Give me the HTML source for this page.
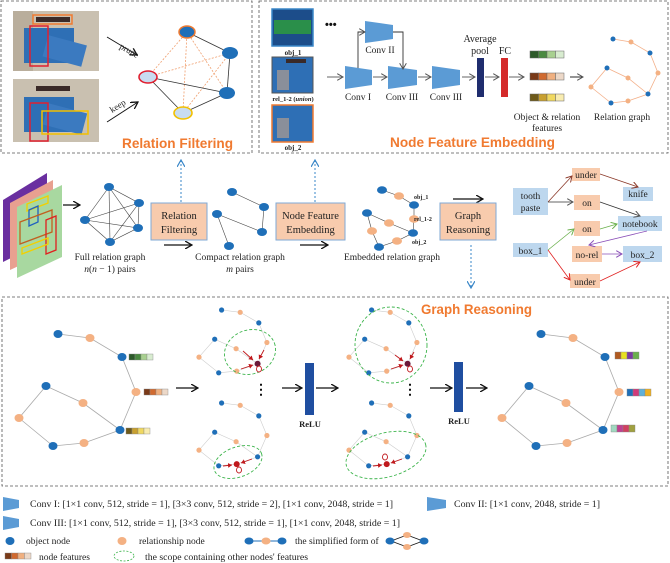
<!DOCTYPE html>
<html><head><meta charset="utf-8"><style>
html,body{margin:0;padding:0;background:#fff}
svg{display:block}
.s{font-family:"Liberation Serif",serif;fill:#222}
.t{font-family:"Liberation Sans",sans-serif;font-weight:bold;fill:#f07a30}
</style></head><body>
<svg width="670" height="563" viewBox="0 0 670 563" xmlns="http://www.w3.org/2000/svg">
<defs>
<marker id="ar" markerWidth="8" markerHeight="8" refX="7" refY="4" orient="auto" markerUnits="userSpaceOnUse"><path d="M0,0 L7,4 L0,8" fill="none" stroke="#111" stroke-width="1.3"/></marker>
<marker id="ab" markerWidth="8" markerHeight="8" refX="7" refY="4" orient="auto" markerUnits="userSpaceOnUse"><path d="M0,0 L7,4 L0,8" fill="none" stroke="#3a87c8" stroke-width="1.2"/></marker>
<marker id="ar2" markerWidth="7" markerHeight="7" refX="6" refY="3.5" orient="auto" markerUnits="userSpaceOnUse"><path d="M0,0 L6,3.5 L0,7" fill="none" stroke="#555" stroke-width="1"/></marker>
<marker id="abr" markerWidth="7" markerHeight="7" refX="6" refY="3.5" orient="auto" markerUnits="userSpaceOnUse"><path d="M0,0 L6,3.5 L0,7" fill="none" stroke="#8b3a2a" stroke-width="1"/></marker>
<marker id="agr" markerWidth="7" markerHeight="7" refX="6" refY="3.5" orient="auto" markerUnits="userSpaceOnUse"><path d="M0,0 L6,3.5 L0,7" fill="none" stroke="#6ab04c" stroke-width="1"/></marker>
<marker id="apu" markerWidth="7" markerHeight="7" refX="6" refY="3.5" orient="auto" markerUnits="userSpaceOnUse"><path d="M0,0 L6,3.5 L0,7" fill="none" stroke="#8a4fb8" stroke-width="1"/></marker>
<marker id="are" markerWidth="7" markerHeight="7" refX="6" refY="3.5" orient="auto" markerUnits="userSpaceOnUse"><path d="M0,0 L6,3.5 L0,7" fill="none" stroke="#e02020" stroke-width="1"/></marker>
<marker id="ard" markerWidth="5" markerHeight="5" refX="4" refY="2.5" orient="auto" markerUnits="userSpaceOnUse"><path d="M0,0 L4,2.5 L0,5Z" fill="#c0181c"/></marker>
</defs>

<!-- dashed frames -->
<rect x="1" y="1" width="251" height="152" fill="none" stroke="#555" stroke-dasharray="3,2" stroke-width="0.8"/>
<rect x="259" y="1" width="409" height="152" fill="none" stroke="#555" stroke-dasharray="3,2" stroke-width="0.8"/>
<rect x="2" y="297" width="666" height="189" fill="none" stroke="#555" stroke-dasharray="3,2" stroke-width="0.8"/>

<!-- ===== Relation filtering panel ===== -->
<g>
<rect x="13" y="11" width="86" height="60" fill="#c9c0b0"/>
<rect x="13" y="11" width="20" height="60" fill="#b9ae9c"/>
<rect x="24" y="28" width="50" height="35" fill="#2e6fb5"/>
<rect x="45" y="40" width="40" height="22" fill="#3b7ac0" transform="rotate(15 65 50)"/>
<rect x="36" y="17" width="34" height="5" fill="#3a2a28"/>
<rect x="33" y="15" width="39" height="9" fill="none" stroke="#f07a30" stroke-width="1.5"/>
<rect x="30" y="26" width="18" height="40" fill="none" stroke="#e02030" stroke-width="1.5"/>
<rect x="13" y="79" width="86" height="63" fill="#c9c0b0"/>
<rect x="24" y="97" width="50" height="35" fill="#2e6fb5"/>
<rect x="45" y="108" width="40" height="22" fill="#3b7ac0" transform="rotate(15 65 119)"/>
<rect x="36" y="86" width="34" height="5" fill="#3a2a28"/>
<rect x="30" y="103" width="18" height="38" fill="none" stroke="#e02030" stroke-width="1.5"/>
<rect x="42" y="111" width="46" height="23" fill="none" stroke="#f2c000" stroke-width="1.5"/>
<line x1="107" y1="37" x2="137" y2="55" stroke="#111" stroke-width="0.9" marker-end="url(#ar)"/>
<line x1="107" y1="122" x2="138" y2="102" stroke="#111" stroke-width="0.9" marker-end="url(#ar)"/>
<text class="s" x="119" y="48" font-size="9" transform="rotate(30 119 48)">prune</text>
<text class="s" x="112" y="113" font-size="9" transform="rotate(-32 112 113)">keep</text>
<g stroke="#f0a070" stroke-width="0.8" stroke-dasharray="2,1.5">
<line x1="187" y1="32" x2="148" y2="77"/><line x1="187" y1="32" x2="183" y2="113"/><line x1="187" y1="32" x2="227" y2="93"/>
<line x1="148" y1="77" x2="230" y2="53"/><line x1="183" y1="113" x2="230" y2="53"/></g>
<g stroke="#333" stroke-width="0.8">
<line x1="187" y1="32" x2="230" y2="53"/><line x1="230" y1="53" x2="227" y2="93"/><line x1="148" y1="77" x2="227" y2="93"/><line x1="148" y1="77" x2="183" y2="113"/><line x1="183" y1="113" x2="227" y2="93"/></g>
<ellipse cx="187" cy="32" rx="8" ry="6" fill="#1f6fb8" stroke="#f07a30" stroke-width="1.5"/>
<ellipse cx="230" cy="53" rx="8" ry="6" fill="#1f6fb8"/>
<ellipse cx="227" cy="93" rx="8" ry="6" fill="#1f6fb8"/>
<ellipse cx="148" cy="77" rx="9" ry="6" fill="#c8dcf0" stroke="#e02030" stroke-width="1.6"/>
<ellipse cx="183" cy="113" rx="9" ry="6" fill="#c8dcf0" stroke="#f2c000" stroke-width="1.6"/>
<text class="t" x="122" y="148" font-size="14" textLength="111" lengthAdjust="spacingAndGlyphs">Relation Filtering</text>
</g>

<!-- ===== Node feature embedding panel ===== -->
<g>
<rect x="272" y="9" width="41" height="37" fill="#1c4d8a" stroke="#3a87c8" stroke-width="1.5"/>
<rect x="274" y="20" width="37" height="14" fill="#2a8f4a"/>
<text class="s" x="293" y="55" font-size="7" text-anchor="middle" font-weight="bold">obj_1</text>
<rect x="272" y="57" width="41" height="36" fill="#2e6fb5" stroke="#555" stroke-width="1"/>
<rect x="277" y="70" width="12" height="20" fill="#8a8f9a"/>
<rect x="286" y="59" width="20" height="4" fill="#3a2a28"/>
<text class="s" x="293" y="101" font-size="6.5" text-anchor="middle" font-weight="bold">rel_1-2 (<tspan font-style="italic">union</tspan>)</text>
<rect x="272" y="105" width="41" height="37" fill="#2e6fb5" stroke="#f07a30" stroke-width="1.5"/>
<rect x="277" y="118" width="12" height="20" fill="#8a8f9a"/>
<text class="s" x="293" y="150" font-size="7" text-anchor="middle" font-weight="bold">obj_2</text>
<text x="325" y="28" font-size="11" font-weight="bold" fill="#111" font-family="Liberation Sans,sans-serif">•••</text>
<line x1="327" y1="77" x2="343" y2="77" stroke="#555" stroke-width="0.9" marker-end="url(#ar2)"/>
<polygon points="345,66 372,70 372,85 345,89" fill="#5b9bd5"/>
<polygon points="365,21 393,25 393,39 365,43" fill="#5b9bd5"/>
<polygon points="388,66 417,70 417,85 388,89" fill="#5b9bd5"/>
<polygon points="432,66 460,70 460,85 432,89" fill="#5b9bd5"/>
<polyline points="358,68 358,32 365,32" fill="none" stroke="#333" stroke-width="0.9" marker-end="url(#ar2)"/>
<polyline points="393,32 403,32 403,69" fill="none" stroke="#333" stroke-width="0.9" marker-end="url(#ar2)"/>
<line x1="373" y1="77" x2="387" y2="77" stroke="#555" stroke-width="0.9" marker-end="url(#ar2)"/>
<line x1="418" y1="77" x2="431" y2="77" stroke="#555" stroke-width="0.9" marker-end="url(#ar2)"/>
<line x1="462" y1="77" x2="475" y2="77" stroke="#555" stroke-width="0.9" marker-end="url(#ar2)"/>
<line x1="485" y1="77" x2="499" y2="77" stroke="#555" stroke-width="0.9" marker-end="url(#ar2)"/>
<line x1="509" y1="77" x2="524" y2="77" stroke="#555" stroke-width="0.9" marker-end="url(#ar2)"/>
<text class="s" x="380" y="53" font-size="9.5" text-anchor="middle">Conv II</text>
<text class="s" x="358" y="100" font-size="9.5" text-anchor="middle">Conv I</text>
<text class="s" x="402" y="100" font-size="9.5" text-anchor="middle">Conv III</text>
<text class="s" x="446" y="100" font-size="9.5" text-anchor="middle">Conv III</text>
<rect x="477" y="58" width="7" height="39" fill="#1f2d6e"/>
<text class="s" x="480" y="42" font-size="10" text-anchor="middle">Average</text>
<text class="s" x="480" y="54" font-size="10" text-anchor="middle">pool</text>
<rect x="501" y="58" width="7" height="39" fill="#d42a2a"/>
<text class="s" x="505" y="54" font-size="10" text-anchor="middle">FC</text>
<g stroke="#666" stroke-width="0.5">
<rect x="530" y="51" width="8.5" height="7" fill="#2d5a2a"/><rect x="538.5" y="51" width="8.5" height="7" fill="#4a8a40"/><rect x="547" y="51" width="8.5" height="7" fill="#a8d090"/><rect x="555.5" y="51" width="8.5" height="7" fill="#d8ecd0"/>
<rect x="530" y="73" width="8.5" height="7" fill="#7a3a18"/><rect x="538.5" y="73" width="8.5" height="7" fill="#d06a30"/><rect x="547" y="73" width="8.5" height="7" fill="#f0b080"/><rect x="555.5" y="73" width="8.5" height="7" fill="#ecd8c8"/>
<rect x="530" y="94" width="8.5" height="7" fill="#6e5a1a"/><rect x="538.5" y="94" width="8.5" height="7" fill="#c8a030"/><rect x="547" y="94" width="8.5" height="7" fill="#f0d860"/><rect x="555.5" y="94" width="8.5" height="7" fill="#f8ecb0"/></g>
<text class="s" x="547" y="120" font-size="9.5" text-anchor="middle">Object &amp; relation</text>
<text class="s" x="547" y="131" font-size="9.5" text-anchor="middle">features</text>
<line x1="570" y1="77" x2="583" y2="77" stroke="#111" stroke-width="0.9" marker-end="url(#ar2)"/>
<polyline points="613,39 631,42 650,53 658,73 648,94 628,101 611,103 591,87 607,68 628,78 648,94" fill="none" stroke="#f3b08a" stroke-width="0.8"/>
<g fill="#1f6fb8"><circle cx="613" cy="39" r="2.5"/><circle cx="650" cy="53" r="2.5"/><circle cx="648" cy="94" r="2.5"/><circle cx="611" cy="103" r="2.5"/><circle cx="607" cy="68" r="2.5"/></g>
<g fill="#f4b183"><circle cx="631" cy="42" r="2.5"/><circle cx="658" cy="73" r="2.5"/><circle cx="628" cy="101" r="2.5"/><circle cx="591" cy="87" r="2.5"/><circle cx="628" cy="78" r="2.5"/></g>
<text class="s" x="622" y="120" font-size="9.5" text-anchor="middle">Relation graph</text>
<text class="t" x="390" y="147" font-size="14" textLength="165" lengthAdjust="spacingAndGlyphs">Node Feature Embedding</text>
</g>

<!-- ===== middle pipeline ===== -->
<polygon points="3,200 47,173 47,240 3,262" fill="#6a2fa0"/>
<polygon points="10,203 53,180 53,250 10,270" fill="#e8a090"/>
<polygon points="17,207 62,185 62,257 17,278" fill="#a8d8a0"/>
<polygon points="27,204 48,196 48,203 27,211" fill="none" stroke="#f2d000" stroke-width="1.3"/>
<polygon points="29,210 38,206 38,222 29,226" fill="none" stroke="#2060c0" stroke-width="1.3"/>
<polygon points="20,222 52,210 52,232 20,244" fill="none" stroke="#c06020" stroke-width="1.3"/>
<polygon points="46,220 56,216 56,250 46,254" fill="none" stroke="#e02020" stroke-width="1.3"/>
<polygon points="22,248 48,238 48,244 22,254" fill="none" stroke="#f2d000" stroke-width="1.3"/>
<line x1="63" y1="205" x2="80" y2="205" stroke="#111" stroke-width="1.2" marker-end="url(#ar)"/>
<g stroke="#444" stroke-width="0.6">
<line x1="109" y1="187" x2="139" y2="203"/><line x1="109" y1="187" x2="85" y2="220"/><line x1="109" y1="187" x2="138" y2="228"/><line x1="109" y1="187" x2="110" y2="242"/>
<line x1="139" y1="203" x2="85" y2="220"/><line x1="139" y1="203" x2="138" y2="228"/><line x1="139" y1="203" x2="110" y2="242"/>
<line x1="85" y1="220" x2="138" y2="228"/><line x1="85" y1="220" x2="110" y2="242"/><line x1="138" y1="228" x2="110" y2="242"/></g>
<g fill="#1f6fb8"><ellipse cx="109" cy="187" rx="5" ry="4"/><ellipse cx="139" cy="203" rx="5" ry="4"/><ellipse cx="85" cy="220" rx="5" ry="4"/><ellipse cx="138" cy="228" rx="5" ry="4"/><ellipse cx="110" cy="242" rx="5" ry="4"/></g>
<text class="s" x="110" y="260" font-size="9.5" text-anchor="middle">Full relation graph</text>
<text class="s" x="110" y="272" font-size="9.5" text-anchor="middle"><tspan font-style="italic">n</tspan>(<tspan font-style="italic">n</tspan> − 1) pairs</text>

<rect x="151" y="203" width="56" height="37" fill="#f8cbad" stroke="#7faad6" stroke-width="1"/>
<text class="s" x="179" y="219" font-size="10.5" text-anchor="middle">Relation</text>
<text class="s" x="179" y="233" font-size="10.5" text-anchor="middle">Filtering</text>
<line x1="181" y1="202" x2="181" y2="160" stroke="#3a87c8" stroke-dasharray="2,2" marker-end="url(#ab)"/>
<line x1="164" y1="245" x2="192" y2="245" stroke="#111" stroke-width="1.2" marker-end="url(#ar)"/>

<g stroke="#444" stroke-width="0.6"><line x1="232" y1="192" x2="264" y2="207"/><line x1="264" y1="207" x2="262" y2="232"/><line x1="217" y1="214" x2="262" y2="232"/><line x1="217" y1="214" x2="229" y2="246"/></g>
<g fill="#1f6fb8"><ellipse cx="232" cy="192" rx="5" ry="4"/><ellipse cx="264" cy="207" rx="5" ry="4"/><ellipse cx="217" cy="214" rx="5" ry="4"/><ellipse cx="262" cy="232" rx="5" ry="4"/><ellipse cx="229" cy="246" rx="5" ry="4"/></g>
<text class="s" x="240" y="260" font-size="9.5" text-anchor="middle">Compact relation graph</text>
<text class="s" x="240" y="272" font-size="9.5" text-anchor="middle"><tspan font-style="italic">m</tspan> pairs</text>

<rect x="276" y="203" width="69" height="37" fill="#f8cbad" stroke="#7faad6" stroke-width="1"/>
<text class="s" x="310.5" y="219" font-size="10.5" text-anchor="middle">Node Feature</text>
<text class="s" x="310.5" y="233" font-size="10.5" text-anchor="middle">Embedding</text>
<line x1="315" y1="202" x2="315" y2="160" stroke="#3a87c8" stroke-dasharray="2,2" marker-end="url(#ab)"/>
<line x1="300" y1="245" x2="328" y2="245" stroke="#111" stroke-width="1.2" marker-end="url(#ar)"/>

<polyline points="382,190 399,196 414,205 414,219 413,233 397,241 379,247 372,231 367,213 389,223 413,233" fill="none" stroke="#444" stroke-width="0.6"/>
<g fill="#1f6fb8"><ellipse cx="382" cy="190" rx="5" ry="3.8"/><ellipse cx="414" cy="205" rx="5" ry="3.8"/><ellipse cx="413" cy="233" rx="5" ry="3.8"/><ellipse cx="379" cy="247" rx="5" ry="3.8"/><ellipse cx="367" cy="213" rx="5" ry="3.8"/></g>
<g fill="#f4b183"><ellipse cx="399" cy="196" rx="5" ry="3.8"/><ellipse cx="397" cy="241" rx="5" ry="3.8"/><ellipse cx="372" cy="231" rx="5" ry="3.8"/><ellipse cx="389" cy="223" rx="5" ry="3.8"/><ellipse cx="414" cy="219" rx="5" ry="3.8"/></g>
<text class="s" x="414" y="199" font-size="6" font-weight="bold">obj_1</text>
<text class="s" x="414" y="221" font-size="6" font-weight="bold">rel_1-2</text>
<text class="s" x="412" y="244" font-size="6" font-weight="bold">obj_2</text>
<text class="s" x="392" y="260" font-size="9.5" text-anchor="middle">Embedded relation graph</text>

<line x1="453" y1="199" x2="483" y2="199" stroke="#111" stroke-width="1.2" marker-end="url(#ar)"/>
<rect x="440" y="203" width="56" height="37" fill="#f8cbad" stroke="#7faad6" stroke-width="1"/>
<text class="s" x="468" y="219" font-size="10.5" text-anchor="middle">Graph</text>
<text class="s" x="468" y="233" font-size="10.5" text-anchor="middle">Reasoning</text>
<line x1="471" y1="245" x2="471" y2="288" stroke="#3a87c8" stroke-dasharray="2,2" marker-end="url(#ab)"/>

<!-- scene graph -->
<g fill="#bdd7ee"><rect x="513" y="188" width="35" height="27"/><rect x="623" y="187" width="30" height="14"/><rect x="618" y="216" width="44" height="15"/><rect x="513" y="243" width="35" height="14"/><rect x="623" y="246" width="39" height="16"/></g>
<g fill="#f8cbad"><rect x="572" y="168" width="28" height="13"/><rect x="574" y="195" width="26" height="15"/><rect x="574" y="221" width="26" height="15"/><rect x="572" y="246" width="30" height="16"/><rect x="570" y="274" width="30" height="14"/></g>
<g class="s" font-size="9.5" text-anchor="middle">
<text x="530.5" y="199">tooth</text><text x="530.5" y="211">paste</text>
<text x="586" y="178">under</text><text x="638" y="197">knife</text><text x="587" y="206">on</text><text x="640" y="227">notebook</text>
<text x="587" y="232">on</text><text x="530.5" y="254">box_1</text><text x="587" y="258">no-rel</text><text x="642.5" y="258">box_2</text><text x="585" y="285">under</text></g>
<g stroke-width="0.8" fill="none">
<line x1="548" y1="202" x2="572" y2="176" stroke="#8b3a2a" marker-end="url(#abr)"/>
<line x1="600" y1="174" x2="638" y2="187" stroke="#8b3a2a" marker-end="url(#abr)"/>
<line x1="548" y1="202" x2="573" y2="202" stroke="#333" marker-end="url(#ar2)"/>
<line x1="600" y1="202" x2="640" y2="216" stroke="#333" marker-end="url(#ar2)"/>
<line x1="548" y1="250" x2="574" y2="229" stroke="#6ab04c" marker-end="url(#agr)"/>
<line x1="600" y1="229" x2="617" y2="224" stroke="#6ab04c" marker-end="url(#agr)"/>
<line x1="647" y1="231" x2="589" y2="245" stroke="#8a4fb8" marker-end="url(#apu)"/>
<line x1="602" y1="254" x2="622" y2="254" stroke="#8a4fb8" marker-end="url(#apu)"/>
<line x1="548" y1="250" x2="570" y2="280" stroke="#e02020" marker-end="url(#are)"/>
<line x1="600" y1="281" x2="640" y2="262" stroke="#e02020" marker-end="url(#are)"/>
</g>

<!-- ===== Graph reasoning ===== -->
<text class="t" x="421" y="314" font-size="14" textLength="111" lengthAdjust="spacingAndGlyphs">Graph Reasoning</text>
<!-- graph 1 -->
<polyline points="58,334 90,338 122,357 136,392 120,430 84,443 53,446 19,418 46,386 83,403 120,430" fill="none" stroke="#aaa" stroke-width="0.8"/>
<g fill="#1f6fb8"><ellipse cx="58" cy="334" rx="4.5" ry="4"/><ellipse cx="122" cy="357" rx="4.5" ry="4"/><ellipse cx="120" cy="430" rx="4.5" ry="4"/><ellipse cx="53" cy="446" rx="4.5" ry="4"/><ellipse cx="46" cy="386" rx="4.5" ry="4"/></g>
<g fill="#f4b183"><ellipse cx="90" cy="338" rx="4.5" ry="4"/><ellipse cx="136" cy="392" rx="4.5" ry="4"/><ellipse cx="84" cy="443" rx="4.5" ry="4"/><ellipse cx="19" cy="418" rx="4.5" ry="4"/><ellipse cx="83" cy="403" rx="4.5" ry="4"/></g>
<g stroke="#888" stroke-width="0.4">
<rect x="129" y="354" width="6" height="6" fill="#2d5a2a"/><rect x="135" y="354" width="6" height="6" fill="#4a8a40"/><rect x="141" y="354" width="6" height="6" fill="#a8d090"/><rect x="147" y="354" width="6" height="6" fill="#d8ecd0"/>
<rect x="144" y="389" width="6" height="6" fill="#7a3a18"/><rect x="150" y="389" width="6" height="6" fill="#d06a30"/><rect x="156" y="389" width="6" height="6" fill="#f0b080"/><rect x="162" y="389" width="6" height="6" fill="#ecd8c8"/>
<rect x="126" y="428" width="6" height="6" fill="#6e5a1a"/><rect x="132" y="428" width="6" height="6" fill="#c8a030"/><rect x="138" y="428" width="6" height="6" fill="#f0d860"/><rect x="144" y="428" width="6" height="6" fill="#f8ecb0"/></g>
<line x1="176" y1="388" x2="198" y2="388" stroke="#111" stroke-width="1.3" marker-end="url(#ar)"/>

<!-- small graph template -->
<g id="sg">
<polyline points="221.6,310 240.2,312.3 258.8,322.9 266.9,342.5 257.6,363.8 236.7,371.1 218.7,372.8 199,357.1 214.7,339.2 236.1,348.7 257.6,363.8" fill="none" stroke="#ccc" stroke-width="0.6"/>
<g fill="#1f6fb8"><circle cx="221.6" cy="310" r="2.6"/><circle cx="258.8" cy="322.9" r="2.6"/><circle cx="257.6" cy="363.8" r="2.6"/><circle cx="218.7" cy="372.8" r="2.6"/><circle cx="214.7" cy="339.2" r="2.6"/></g>
<g fill="#f4b183"><circle cx="240.2" cy="312.3" r="2.6"/><circle cx="266.9" cy="342.5" r="2.6"/><circle cx="236.7" cy="371.1" r="2.6"/><circle cx="199" cy="357.1" r="2.6"/><circle cx="236.1" cy="348.7" r="2.6"/></g>
</g>
<use href="#sg" transform="translate(0,93)"/>
<use href="#sg" transform="translate(150,0)"/>
<use href="#sg" transform="translate(150,93)"/>
<!-- scopes & red arrows -->
<g fill="none" stroke="#3cb44b" stroke-width="0.9" stroke-dasharray="3,2">
<ellipse cx="250" cy="352" rx="26" ry="22" transform="rotate(-20 250 352)"/>
<ellipse cx="238" cy="462" rx="25" ry="15" transform="rotate(-20 238 462)"/>
<ellipse cx="391" cy="345" rx="36" ry="38"/>
<ellipse cx="386" cy="455" rx="41" ry="22" transform="rotate(-15 386 455)"/>
</g>
<g stroke="#c0181c" stroke-width="0.9" fill="none">
<circle cx="257.6" cy="363.8" r="3" fill="#6a1a3a" stroke="none"/>
<line x1="243" y1="351" x2="253" y2="360" marker-end="url(#ard)"/><line x1="264" y1="350" x2="259" y2="359" marker-end="url(#ard)"/><line x1="241" y1="369" x2="253" y2="365" marker-end="url(#ard)"/>
<ellipse cx="259" cy="369" rx="2.5" ry="3"/>
<circle cx="236.7" cy="464.1" r="3" fill="#c0181c" stroke="none"/>
<line x1="223" y1="466" x2="232" y2="465" marker-end="url(#ard)"/><line x1="252" y1="459" x2="241" y2="463" marker-end="url(#ard)"/>
<ellipse cx="239" cy="470" rx="2.5" ry="3"/>
<circle cx="407.6" cy="363.8" r="3" fill="#6a1a3a" stroke="none"/>
<line x1="395" y1="355" x2="403" y2="361" marker-end="url(#ard)"/><line x1="414" y1="352" x2="410" y2="359" marker-end="url(#ard)"/><line x1="391" y1="369" x2="403" y2="365" marker-end="url(#ard)"/>
<ellipse cx="410" cy="369" rx="2.5" ry="3"/>
<circle cx="386.7" cy="464.1" r="3" fill="#c0181c" stroke="none"/>
<line x1="373" y1="466" x2="382" y2="465" marker-end="url(#ard)"/><line x1="402" y1="459" x2="391" y2="463" marker-end="url(#ard)"/>
<ellipse cx="385" cy="457" rx="2.5" ry="3"/>
</g>
<text x="261" y="394" font-size="14" font-weight="bold" text-anchor="middle" font-family="Liberation Sans,sans-serif" fill="#111">⋮</text>
<text x="410" y="394" font-size="14" font-weight="bold" text-anchor="middle" font-family="Liberation Sans,sans-serif" fill="#111">⋮</text>
<line x1="282" y1="388" x2="302" y2="388" stroke="#111" stroke-width="1.3" marker-end="url(#ar)"/>
<rect x="305" y="363" width="9" height="52" fill="#1f4ea0"/>
<text class="s" x="310" y="427" font-size="8.5" font-weight="bold" text-anchor="middle">ReLU</text>
<line x1="316" y1="388" x2="338" y2="388" stroke="#111" stroke-width="1.3" marker-end="url(#ar)"/>
<line x1="430" y1="388" x2="452" y2="388" stroke="#111" stroke-width="1.3" marker-end="url(#ar)"/>
<rect x="454" y="362" width="9" height="50" fill="#1f4ea0"/>
<text class="s" x="459" y="424" font-size="8.5" font-weight="bold" text-anchor="middle">ReLU</text>
<line x1="466" y1="388" x2="487" y2="388" stroke="#111" stroke-width="1.3" marker-end="url(#ar)"/>
<!-- graph 4 -->
<polyline points="541,334 573,338 605,357 619,392 603,430 567,443 536,446 502,418 529,386 566,403 603,430" fill="none" stroke="#aaa" stroke-width="0.8"/>
<g fill="#1f6fb8"><ellipse cx="541" cy="334" rx="4.5" ry="4"/><ellipse cx="605" cy="357" rx="4.5" ry="4"/><ellipse cx="603" cy="430" rx="4.5" ry="4"/><ellipse cx="536" cy="446" rx="4.5" ry="4"/><ellipse cx="529" cy="386" rx="4.5" ry="4"/></g>
<g fill="#f4b183"><ellipse cx="573" cy="338" rx="4.5" ry="4"/><ellipse cx="619" cy="392" rx="4.5" ry="4"/><ellipse cx="567" cy="443" rx="4.5" ry="4"/><ellipse cx="502" cy="418" rx="4.5" ry="4"/><ellipse cx="566" cy="403" rx="4.5" ry="4"/></g>
<g stroke="#888" stroke-width="0.4">
<rect x="615" y="352" width="6" height="7" fill="#b05a20"/><rect x="621" y="352" width="6" height="7" fill="#e8e020"/><rect x="627" y="352" width="6" height="7" fill="#7a3aa0"/><rect x="633" y="352" width="6" height="7" fill="#6ab04c"/>
<rect x="627" y="389" width="6" height="7" fill="#1f6fb8"/><rect x="633" y="389" width="6" height="7" fill="#d03a7a"/><rect x="639" y="389" width="6" height="7" fill="#60b0d8"/><rect x="645" y="389" width="6" height="7" fill="#f0b020"/>
<rect x="611" y="425" width="6" height="7" fill="#a0d8c0"/><rect x="617" y="425" width="6" height="7" fill="#c04090"/><rect x="623" y="425" width="6" height="7" fill="#d04060"/><rect x="629" y="425" width="6" height="7" fill="#a0a040"/></g>

<!-- ===== Legend ===== -->
<polygon points="3,497 19,500 19,508 3,511" fill="#5b9bd5"/>
<text class="s" x="30" y="507" font-size="9.5" textLength="363" lengthAdjust="spacingAndGlyphs">Conv I: [1×1 conv, 512, stride = 1], [3×3 conv, 512, stride = 2], [1×1 conv, 2048, stride = 1]</text>
<polygon points="427,497 446,500 446,508 427,511" fill="#5b9bd5"/>
<text class="s" x="454" y="507" font-size="9.5" textLength="146" lengthAdjust="spacingAndGlyphs">Conv II: [1×1 conv, 2048, stride = 1]</text>
<polygon points="3,516 19,519 19,527 3,530" fill="#5b9bd5"/>
<text class="s" x="30" y="526" font-size="9.5" textLength="370" lengthAdjust="spacingAndGlyphs">Conv III: [1×1 conv, 512, stride = 1], [3×3 conv, 512, stride = 1], [1×1 conv, 2048, stride = 1]</text>
<ellipse cx="10" cy="541" rx="4.5" ry="4" fill="#1f6fb8"/>
<text class="s" x="26" y="544" font-size="9.5">object  node</text>
<ellipse cx="122" cy="541" rx="4.5" ry="4" fill="#f4b183"/>
<text class="s" x="139" y="544" font-size="9.5">relationship node</text>
<line x1="249" y1="541" x2="283" y2="541" stroke="#1f6fb8" stroke-width="1"/>
<ellipse cx="249" cy="541" rx="4.5" ry="3.5" fill="#1f6fb8"/><ellipse cx="266" cy="541" rx="4.5" ry="3.5" fill="#f4b183"/><ellipse cx="282" cy="541" rx="4.5" ry="3.5" fill="#1f6fb8"/>
<text class="s" x="295" y="544" font-size="9.5">the simplified form of</text>
<g stroke="#111" stroke-width="0.7"><line x1="391" y1="541" x2="407" y2="535"/><line x1="407" y1="535" x2="423" y2="541"/><line x1="423" y1="541" x2="407" y2="547"/><line x1="407" y1="547" x2="391" y2="541"/></g>
<ellipse cx="390" cy="541" rx="4.5" ry="3.5" fill="#1f6fb8"/><ellipse cx="407" cy="535" rx="4" ry="3" fill="#f4b183"/><ellipse cx="407" cy="547" rx="4" ry="3" fill="#f4b183"/><ellipse cx="424" cy="541" rx="4.5" ry="3.5" fill="#1f6fb8"/>
<g stroke="#888" stroke-width="0.4"><rect x="5" y="553" width="6.5" height="6" fill="#7a3a18"/><rect x="11.5" y="553" width="6.5" height="6" fill="#d06a30"/><rect x="18" y="553" width="6.5" height="6" fill="#f0b080"/><rect x="24.5" y="553" width="6.5" height="6" fill="#ecd8c8"/></g>
<text class="s" x="39" y="560" font-size="9.5">node features</text>
<ellipse cx="124" cy="556" rx="10" ry="5" fill="none" stroke="#3cb44b" stroke-width="0.8" stroke-dasharray="2,1.5"/>
<text class="s" x="145" y="560" font-size="9.5" textLength="163" lengthAdjust="spacingAndGlyphs">the scope containing other nodes' features</text>
</svg>
</body></html>
